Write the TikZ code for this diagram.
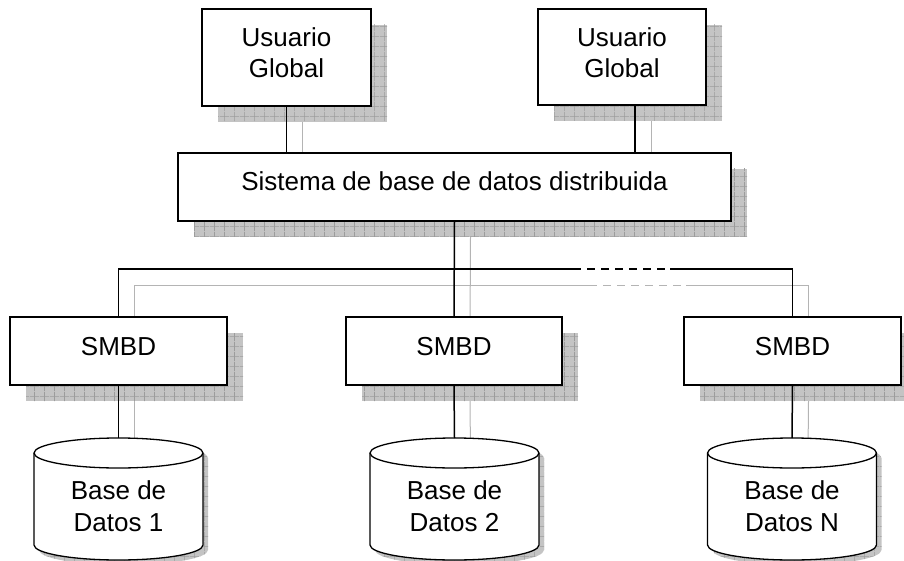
\documentclass[tikz,border=0pt]{standalone}
\usepackage{fontspec}
\setmainfont{Liberation Sans}
\usetikzlibrary{calc,patterns}

\pgfdeclarelayer{shadow}
\pgfsetlayers{shadow,main}

\definecolor{shadowbg}{HTML}{C4C4C4}
\definecolor{shadowln}{HTML}{9C9C9C}
\definecolor{wireghost}{HTML}{B4B4B4}

% cross-hatched texture used inside the drop shadows
\pgfdeclarepatternformonly{shadowgrid}{\pgfqpoint{0pt}{0pt}}{\pgfqpoint{10pt}{10pt}}{\pgfqpoint{10pt}{10pt}}{%
  \pgfsetlinewidth{0.7pt}%
  \pgfpathmoveto{\pgfqpoint{0pt}{5pt}}\pgfpathlineto{\pgfqpoint{10pt}{5pt}}%
  \pgfpathmoveto{\pgfqpoint{5pt}{0pt}}\pgfpathlineto{\pgfqpoint{5pt}{10pt}}%
  \pgfusepath{stroke}}

% struts that place the text a little above the middle of a box
\newcommand\onestrut{\rule[-11pt]{0pt}{30pt}}
\newcommand\twostrut{\rule[-9pt]{0pt}{9pt}}

% outline of a database cylinder around an (invisible) frame node
\newcommand\cylpath[1]{($(#1.north west)+(0,15)$) -- ($(#1.south west)+(0,-15)$)
  arc[start angle=180, end angle=0, x radius=84.5, y radius=15]
  -- ($(#1.north east)+(0,15)$)
  arc[start angle=0, end angle=-180, x radius=84.5, y radius=15] -- cycle}

\newcommand\database[3]{%
  \node[dbframe] (#1) at (#2,499) {};
  \begin{pgfonlayer}{shadow}
    \fill[shadowfill, transform canvas={shift={(5pt,-5pt)}}] \cylpath{#1};
  \end{pgfonlayer}
  \filldraw[cylline] \cylpath{#1};
  \draw[cylline] ($(#1.north west)+(0,15)$)
    arc[start angle=180, end angle=0, x radius=84.5, y radius=15];
  \node[dbtext] (#1-text) at ([yshift=-7.5pt]#1.center) {#3};
}

\newcommand\boxshadow[1]{%
  \fill[shadowfill] ([shift={(16,16)}]#1.north west) rectangle ([shift={(16,16)}]#1.south east);}

% all connectors, drawn once as a shadow and once in black
\newcommand\connectors[1]{%
  \draw[#1] (u1.south) -- (u1.south |- sis.north);
  \draw[#1] ([xshift=13pt]u2.south) -- ([xshift=13pt]u2.south |- sis.north);
  \draw[#1] (sis.south) -- (s2.north);
  \draw[#1] (s1.north) |- (busA);
  \draw[#1, dashpart] (busB) -- (busC);
  \draw[#1] (busD) -| (s3.north);
  \draw[#1] (s1.south) -- (d1.north);
  \draw[#1] (s2.south) -- (d2.north);
  \draw[#1] (s3.south) -- (d3.north);
}

\begin{document}
\begin{tikzpicture}[x=1pt, y=-1pt,
  box/.style={draw, fill=white, line width=1.5pt, inner sep=0pt, outer sep=0pt,
    font=\fontsize{26}{31}\selectfont, align=center},
  dbframe/.style={rectangle, inner sep=0pt, outer sep=0pt,
    minimum width=169pt, minimum height=122pt},
  dbtext/.style={inner sep=0pt, font=\fontsize{26}{32}\selectfont, align=center},
  cylline/.style={line width=1.3pt, fill=white},
  shadowfill/.style={fill=shadowbg, postaction={pattern=shadowgrid, pattern color=shadowln}},
  wire/.style={line width=1.5pt},
  ghost/.style={draw=wireghost, line width=1pt, transform canvas={shift={(16pt,-16pt)}}},
  dashpart/.style={dash pattern=on 7.7pt off 6.3pt}]

\useasboundingbox (0,0) rectangle (904,561);

% users
\node[box, minimum width=169pt, minimum height=97pt] (u1) at (286.5,57.5) {Usuario\\Global\twostrut};
\node[box, minimum width=168pt, minimum height=96pt] (u2) at (622,57) {Usuario\\Global\twostrut};

% distributed system
\node[box, minimum width=553pt, minimum height=68pt] (sis) at (454.5,187) {\onestrut Sistema de base de datos distribuida};

% local managers
\node[box, minimum width=217pt, minimum height=68pt] (s1) at (118.5,351) {\onestrut SMBD};
\node[box, minimum width=216pt, minimum height=68pt] (s2) at (454,351) {\onestrut SMBD};
\node[box, minimum width=217pt, minimum height=68pt] (s3) at (792.5,351) {\onestrut SMBD};

% databases
\database{d1}{118.5}{Base de\\Datos 1}
\database{d2}{454.5}{Base de\\Datos 2}
\database{d3}{792}{Base de\\Datos N}

% break points of the bus line
\coordinate (busA) at (581,269);
\coordinate (busB) at (587,269);
\coordinate (busC) at (666,269);
\coordinate (busD) at (670,269);

\begin{pgfonlayer}{shadow}
  \boxshadow{u1}
  \boxshadow{u2}
  \boxshadow{sis}
  \boxshadow{s1}
  \boxshadow{s2}
  \boxshadow{s3}
  \connectors{ghost}
\end{pgfonlayer}

\connectors{wire}

\end{tikzpicture}
\end{document}
